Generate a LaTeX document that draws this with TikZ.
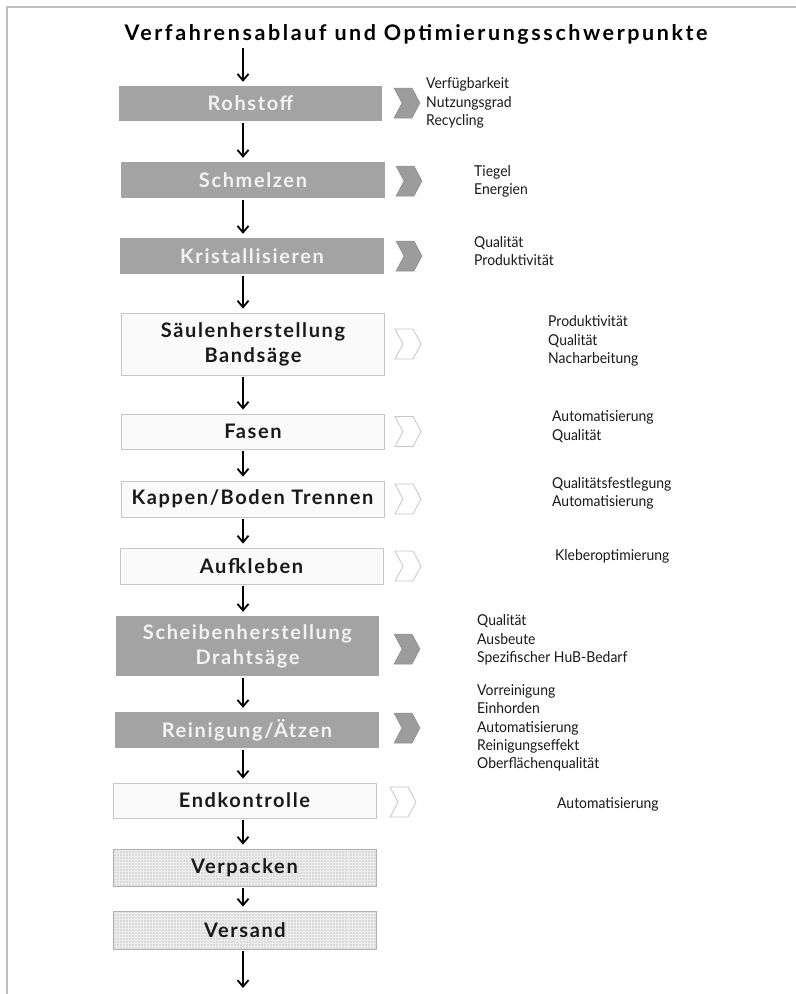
\documentclass[tikz,border=0pt]{standalone}
\usepackage{fontspec}
\setmainfont{Lato}
\newfontfamily\boxfont[LetterSpace=8]{Lato}
\newfontfamily\headfont[LetterSpace=12]{Lato}
\newfontfamily\notefont[FakeStretch=0.93]{Lato}
\usetikzlibrary{shapes.symbols, positioning, arrows.meta, patterns}
\definecolor{darkbox}{HTML}{A3A3A3}
\definecolor{darkchev}{HTML}{9C9C9C}
\definecolor{lightline}{HTML}{C6C6C6}
\definecolor{lightfill}{HTML}{FAFAFA}
\definecolor{meshfill}{HTML}{DADADA}
\definecolor{frameline}{HTML}{BEBEBE}

\begin{document}
\begin{tikzpicture}[x=1bp, y=-1bp,
  box/.style={minimum width=263bp, inner sep=0pt, align=center, font=\boxfont\bfseries\fontsize{20bp}{25bp}\selectfont},
  dark/.style={box, fill=darkbox, text=white!95!black},
  light/.style={box, fill=lightfill, draw=lightline, line width=0.8bp, text=black!90},
  mesh/.style={box, draw=black!30, line width=0.8bp, text=black!90, preaction={fill=meshfill}, pattern=grid, pattern color=black!7},
  chev/.style={signal, signal to=east, signal from=west, signal pointer angle=124, minimum width=26bp, minimum height=30bp, inner sep=0pt},
  dchev/.style={chev, fill=darkchev, draw=black!45, line width=0.5bp},
  lchev/.style={chev, fill=white, draw=lightline, line width=0.8bp},
  note/.style={anchor=west, align=left, inner sep=0pt, text=black!90, font=\notefont\fontsize{15bp}{18.3bp}\selectfont},
  >={Straight Barb[length=6.5bp, width=11bp]}, flow/.style={->, line width=1.8bp, shorten <=2bp, shorten >=4bp}]
  \useasboundingbox (0,0) rectangle (796,994);
  \draw[frameline, line width=1.5bp] (796,7) -- (7,7) -- (7,994);
  \node[anchor=base, inner sep=1bp, font=\headfont\bfseries\fontsize{21.5bp}{26bp}\selectfont] (title) at (416,40.7) {Verfahrensablauf und Optimierungsschwerpunkte};
  % Prozesskette
  \node[dark, minimum height=35bp] (rohstoff) at (250.5,103.5) {Rohstoff};
  \node[dark, minimum height=36bp] (schmelzen) at (253,180) {Schmelzen};
  \node[dark, minimum height=36bp] (kristall) at (252,256) {Kristallisieren};
  \node[light, minimum height=62bp] (saeule) at (253,344) {Säulenherstellung\\Bandsäge};
  \node[light, minimum height=35bp] (fasen) at (253,431.5) {Fasen};
  \node[light, minimum height=36bp] (kappen) at (252.5,499) {Kappen/Boden Trennen};
  \node[light, minimum height=36bp] (aufkleben) at (251.5,566) {Aufkleben};
  \node[dark, minimum height=60bp] (scheibe) at (247.5,646) {Scheibenherstellung\\Drahtsäge};
  \node[dark, minimum height=36bp] (reinigung) at (247,730) {Reinigung/Ätzen};
  \node[light, minimum height=35bp] (endkontr) at (244.5,800.5) {Endkontrolle};
  \node[mesh, minimum height=37bp] (verpacken) at (244.5,867.5) {Verpacken};
  \node[mesh, minimum height=38bp] (versand) at (245,930) {Versand};
  % Pfeile
  \coordinate (ax) at (243,0);
  \coordinate (ende) at (243,988);
  \draw[flow] (title.south -| ax) -- (rohstoff.north -| ax);
  \draw[flow] (rohstoff.south -| ax) -- (schmelzen.north -| ax);
  \draw[flow] (schmelzen.south -| ax) -- (kristall.north -| ax);
  \draw[flow] (kristall.south -| ax) -- (saeule.north -| ax);
  \draw[flow] (saeule.south -| ax) -- (fasen.north -| ax);
  \draw[flow] (fasen.south -| ax) -- (kappen.north -| ax);
  \draw[flow] (kappen.south -| ax) -- (aufkleben.north -| ax);
  \draw[flow] (aufkleben.south -| ax) -- (scheibe.north -| ax);
  \draw[flow] (scheibe.south -| ax) -- (reinigung.north -| ax);
  \draw[flow] (reinigung.south -| ax) -- (endkontr.north -| ax);
  \draw[flow] (endkontr.south -| ax) -- (verpacken.north -| ax);
  \draw[flow] (verpacken.south -| ax) -- (versand.north -| ax);
  \draw[flow, shorten >=0pt] (versand.south -| ax) -- (ende);
  % Schwerpunkte
  \node[dchev] (c1) at (407,103) {};
  \node[dchev] (c2) at (409,181) {};
  \node[dchev] (c3) at (409,256) {};
  \node[lchev] (c4) at (408,344) {};
  \node[lchev] (c5) at (408,431.5) {};
  \node[lchev] (c6) at (408,499) {};
  \node[lchev] (c7) at (408,566) {};
  \node[dchev] (c8) at (407,649) {};
  \node[dchev] (c9) at (407,728) {};
  \node[lchev] (c10) at (403,802) {};
  \node[note] (n1) at (426,103) {Verfügbarkeit\\Nutzungsgrad\\Recycling};
  \node[note] (n2) at (474,181) {Tiegel\\Energien};
  \node[note] (n3) at (474,251) {Qualität\\Produktivität};
  \node[note] (n4) at (548,341) {Produktivität\\Qualität\\Nacharbeitung};
  \node[note] (n5) at (552,426.5) {Automatisierung\\Qualität};
  \node[note] (n6) at (552,493) {Qualitätsfestlegung\\Automatisierung};
  \node[note] (n7) at (555,556.5) {Kleberoptimierung};
  \node[note] (n8) at (477,640) {Qualität\\Ausbeute\\Spezifischer HuB-Bedarf};
  \node[note] (n9) at (477,728) {Vorreinigung\\Einhorden\\Automatisierung\\Reinigungseffekt\\Oberflächenqualität};
  \node[note] (n10) at (557,804) {Automatisierung};
\end{tikzpicture}
\end{document}
